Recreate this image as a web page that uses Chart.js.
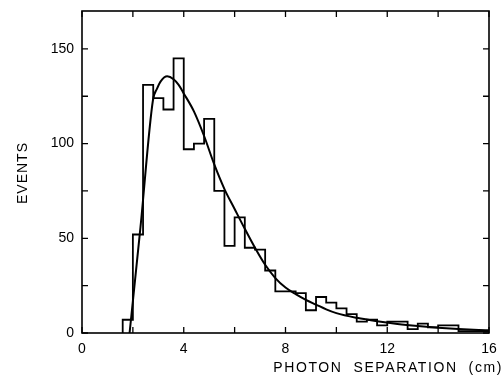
<!DOCTYPE html>
<html>
<head>
<meta charset="utf-8">
<script src="https://cdn.jsdelivr.net/npm/chart.js@4.4.1/dist/chart.umd.min.js"></script>
<style>
  html, body { margin: 0; padding: 0; background: #fff; }
  #wrap { width: 503px; height: 377px; }
</style>
</head>
<body>
<div id="wrap"><canvas id="hist" width="503" height="377"></canvas></div>
<script>
// Bordes de los bins (cm) y eventos por bin
const binEdges = [1.6, 2.0, 2.4, 2.8, 3.2, 3.6, 4.0, 4.4, 4.8, 5.2, 5.6, 6.0, 6.4, 6.8, 7.2, 7.6, 8.0, 8.4, 8.8,
  9.2, 9.6, 10.0, 10.4, 10.8, 11.2, 11.6, 12.0, 12.4, 12.8, 13.2, 13.6, 14.0, 14.4, 14.8, 15.2, 15.6, 16.0];
const events = [7, 52, 131, 124, 118, 145, 97, 100, 113, 75, 46, 61, 45, 44, 33, 22, 22, 21, 12,
  19, 16, 13, 10, 6, 7, 4, 6, 6, 2, 5, 3, 4, 4, 1, 1, 1];

// Curva ajustada
const fitX = [1.87, 2.3, 2.79, 2.95, 3.1, 3.35, 3.6, 3.8, 4.0, 4.4, 4.8, 5.2, 5.6, 6.0, 6.4, 6.8, 7.2, 7.6,
  8.0, 8.4, 8.8, 9.2, 9.6, 10.0, 10.8, 11.6, 12.4, 13.2, 14.0, 14.8, 15.6, 16.0];
const fitY = [0, 56, 123, 129, 133, 135.5, 134, 131, 126.5, 117, 104, 89, 76, 65.5, 55, 45, 36, 29,
  24, 20.5, 17.5, 15, 12.5, 10.5, 8, 6.2, 4.8, 3.7, 2.8, 2.1, 1.6, 1.4];

// Ejes
const xTicks = [0, 2, 4, 6, 8, 10, 12, 14, 16];
const xLabels = [0, 4, 8, 12, 16];
const yTicks = [0, 25, 50, 75, 100, 125, 150];
const yLabels = [0, 50, 100, 150];
const xTitle = 'PHOTON SEPARATION (cm)';
const yTitle = 'EVENTS';

const FONT = 'Liberation Sans';

// Puntos del histograma en escalón (horizontal y luego vertical)
const histPoints = [{ x: binEdges[0], y: 0 }];
events.forEach((v, i) => histPoints.push({ x: binEdges[i], y: v }));
histPoints.push({ x: binEdges[binEdges.length - 1], y: 0 });

const fitPoints = fitX.map((x, i) => ({ x: x, y: fitY[i] }));

// Marco, marcas hacia adentro y títulos de los ejes
const framePlugin = {
  id: 'frame',
  afterDraw(chart) {
    const ctx = chart.ctx;
    const a = chart.chartArea;
    const xs = chart.scales.x;
    const ys = chart.scales.y;
    ctx.save();
    ctx.strokeStyle = '#000';
    ctx.lineWidth = 1.6;
    ctx.strokeRect(a.left, a.top, a.right - a.left, a.bottom - a.top);

    ctx.lineWidth = 1.3;
    ctx.beginPath();
    xTicks.forEach(v => {
      const px = xs.getPixelForValue(v);
      ctx.moveTo(px, a.bottom); ctx.lineTo(px, a.bottom - 6);
      ctx.moveTo(px, a.top); ctx.lineTo(px, a.top + 6);
    });
    yTicks.forEach(v => {
      const py = ys.getPixelForValue(v);
      ctx.moveTo(a.left, py); ctx.lineTo(a.left + 6, py);
      ctx.moveTo(a.right, py); ctx.lineTo(a.right - 6, py);
    });
    ctx.stroke();

    ctx.fillStyle = '#000';
    ctx.font = '14px "' + FONT + '"';
    ctx.letterSpacing = '1.6px';
    ctx.textAlign = 'right';
    ctx.textBaseline = 'middle';
    ctx.fillText(xTitle.replace(/ /g, '  '), 503, 368);

    ctx.translate(23, 173);
    ctx.rotate(-Math.PI / 2);
    ctx.letterSpacing = '1px';
    ctx.textAlign = 'center';
    ctx.fillText(yTitle, 0, 0);
    ctx.restore();
  }
};

const ctx = document.getElementById('hist').getContext('2d');
const chart = new Chart(ctx, {
  type: 'line',
  data: {
    datasets: [{
      label: 'Eventos',
      data: histPoints,
      stepped: 'before',
      borderColor: '#000',
      borderWidth: 1.8,
      pointRadius: 0,
      fill: false
    }, {
      label: 'Ajuste',
      data: fitPoints,
      cubicInterpolationMode: 'monotone',
      borderColor: '#000',
      borderWidth: 2,
      pointRadius: 0,
      fill: false
    }]
  },
  options: {
    responsive: false,
    animation: false,
    layout: { padding: { top: 11, right: 14, left: 0, bottom: 0 } },
    plugins: {
      legend: { display: false },
      tooltip: { enabled: false }
    },
    scales: {
      x: {
        type: 'linear',
        min: 0,
        max: 16,
        afterFit(scale) {
          scale.height = 44;
          scale.paddingLeft = 0;
          scale.paddingRight = 0;
        },
        afterBuildTicks(scale) { scale.ticks = xLabels.map(v => ({ value: v })); },
        grid: { display: false, drawTicks: false },
        border: { display: false },
        ticks: {
          autoSkip: false,
          maxRotation: 0,
          padding: 8,
          color: '#000',
          font: { family: FONT, size: 14 }
        }
      },
      y: {
        type: 'linear',
        min: 0,
        max: 170,
        afterFit(scale) {
          scale.width = 82;
          scale.paddingTop = 0;
          scale.paddingBottom = 0;
        },
        afterBuildTicks(scale) { scale.ticks = yLabels.map(v => ({ value: v })); },
        grid: { display: false, drawTicks: false },
        border: { display: false },
        ticks: {
          padding: 8,
          color: '#000',
          font: { family: FONT, size: 14 }
        }
      }
    }
  },
  plugins: [framePlugin]
});
</script>
</body>
</html>
